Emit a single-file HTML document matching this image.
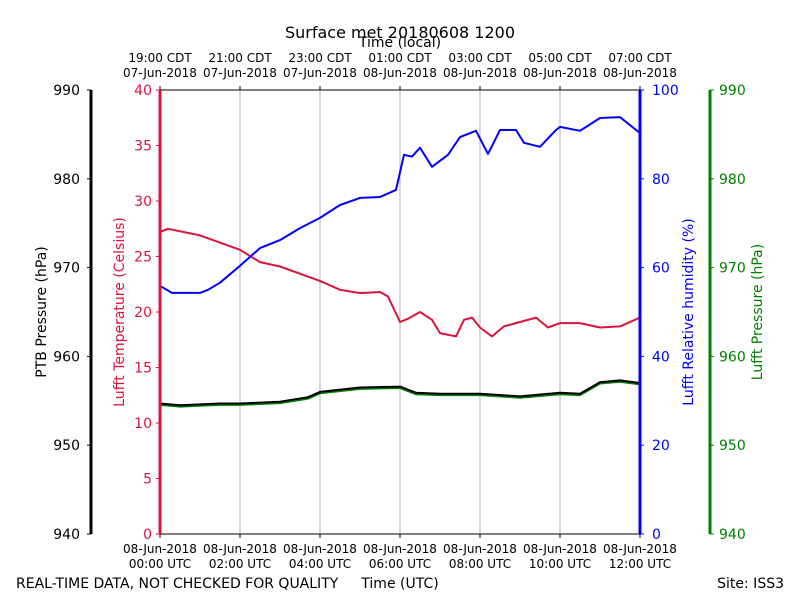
<!DOCTYPE html>
<html><head><meta charset="utf-8"><style>
body{margin:0;background:#fff;}
svg{display:block;font-family:"DejaVu Sans","Liberation Sans",sans-serif;}
</style></head><body>
<svg id="c" width="800" height="600"></svg>
<script>
const hoursT=[0,0.2,1,2,2.5,3,4,4.5,5,5.5,5.7,6,6.2,6.5,6.8,7,7.4,7.6,7.8,8,8.3,8.6,9,9.4,9.7,10,10.5,11,11.5,12];
const tempC=[27.2,27.5,26.9,25.6,24.5,24.1,22.8,22.0,21.7,21.8,21.4,19.1,19.4,20.0,19.3,18.1,17.8,19.3,19.5,18.6,17.8,18.7,19.1,19.5,18.6,19.0,19.0,18.6,18.7,19.5];
const hoursRH=[0,0.3,1,1.2,1.5,2,2.5,3,3.5,4,4.5,5,5.5,5.9,6.1,6.3,6.5,6.8,7.2,7.5,7.9,8.2,8.5,8.9,9.1,9.5,9.9,10,10.5,11,11.5,12];
const rhPct=[55.9,54.3,54.3,55.0,56.6,60.4,64.4,66.2,68.9,71.2,74.1,75.7,75.9,77.5,85.4,85.0,87.0,82.7,85.4,89.4,90.8,85.6,91.0,91.0,88.1,87.2,91.0,91.7,90.8,93.7,93.9,90.3];
const hoursP=[0,0.5,1,1.5,2,3,3.7,4,5,6,6.4,7,8,9,10,10.5,11,11.5,12];
const ptbHpa=[954.7,954.5,954.6,954.7,954.7,954.9,955.4,956.0,956.5,956.6,955.9,955.8,955.8,955.5,955.9,955.8,957.1,957.3,957.0];
const lufftHpa=[954.6,954.4,954.5,954.6,954.6,954.8,955.3,955.9,956.4,956.5,955.8,955.7,955.7,955.4,955.8,955.7,957.0,957.2,956.9];
const utcTicks=["00:00","02:00","04:00","06:00","08:00","10:00","12:00"];
const utcDates=["08-Jun-2018","08-Jun-2018","08-Jun-2018","08-Jun-2018","08-Jun-2018","08-Jun-2018","08-Jun-2018"];
const localTicks=["19:00","21:00","23:00","01:00","03:00","05:00","07:00"];
const localDates=["07-Jun-2018","07-Jun-2018","07-Jun-2018","08-Jun-2018","08-Jun-2018","08-Jun-2018","08-Jun-2018"];
const tempTicks=[0,5,10,15,20,25,30,35,40];
const rhTicks=[0,20,40,60,80,100];
const pTicks=[940,950,960,970,980,990];

const L=160,R=640,T=90,B=534;
const X=h=>L+h*(R-L)/12;
const Yt=v=>B-v*(B-T)/40;
const Yr=v=>B-v*(B-T)/100;
const Yp=v=>B-(v-940)*(B-T)/50;
const svg=document.getElementById('c');
const NS='http://www.w3.org/2000/svg';
function mk(tag,attrs,parent){const e=document.createElementNS(NS,tag);for(const k in attrs)e.setAttribute(k,attrs[k]);(parent||svg).appendChild(e);return e;}
function txt(s,x,y,attrs,name){const e=mk('text',Object.assign({x:x,y:y,'font-size':12},attrs));e.textContent=s;


return e;}

for(let i=1;i<6;i++){const g=mk('line',{x1:X(i*2),x2:X(i*2),y1:T,y2:B,stroke:'#b0b0b0','stroke-width':1});

}
mk('line',{x1:L,x2:R,y1:T,y2:T,stroke:'#000','stroke-width':1});
mk('line',{x1:L,x2:R,y1:B,y2:B,stroke:'#000','stroke-width':1});

for(let i=0;i<7;i++){const x=X(i*2);
mk('line',{x1:x,x2:x,y1:B,y2:B+4,stroke:'#000'});
mk('line',{x1:x,x2:x,y1:T,y2:T-4,stroke:'#000'});
txt(utcDates[i],x,553,{'text-anchor':'middle'},'x-tick-date');
txt(utcTicks[i]+' UTC',x,568,{'text-anchor':'middle'},'x-tick-label');
txt(localTicks[i]+' CDT',x,62,{'text-anchor':'middle'},'top-x-tick-label');
txt(localDates[i],x,77,{'text-anchor':'middle'},'top-x-tick-date');}

function line(xs,ys,fx,fy,color,w,name){let d='';for(let i=0;i<xs.length;i++)d+=(i?'L':'M')+fx(xs[i]).toFixed(1)+','+fy(ys[i]).toFixed(1);
const p=mk('path',{d:d,fill:'none',stroke:color,'stroke-width':w,'stroke-linejoin':'round'});

}
line(hoursP,lufftHpa,X,Yp,'#008000',3,'lufft-pressure-line');
line(hoursP,ptbHpa,X,Yp,'#000',2,'ptb-pressure-line');
line(hoursT,tempC,X,Yt,'#dc143c',2,'temperature-line');
line(hoursRH,rhPct,X,Yr,'#0000ff',2,'humidity-line');

mk('line',{x1:L,x2:L,y1:T,y2:B,stroke:'#dc143c','stroke-width':3});
tempTicks.forEach(v=>{mk('line',{x1:L-4,x2:L,y1:Yt(v),y2:Yt(v),stroke:'#dc143c'});txt(v,L-8,Yt(v)+5,{'text-anchor':'end',fill:'#dc143c','font-size':14},'temp-tick-label');});
txt('Lufft Temperature (Celsius)',0,0,{'text-anchor':'middle',fill:'#dc143c','font-size':14,transform:'translate(124,312) rotate(-90)'},'temp-axis-title');
mk('line',{x1:R,x2:R,y1:T,y2:B,stroke:'#0000ff','stroke-width':3});
rhTicks.forEach(v=>{mk('line',{x1:R,x2:R+4,y1:Yr(v),y2:Yr(v),stroke:'#0000ff'});txt(v,R+12,Yr(v)+5,{fill:'#0000ff','font-size':14},'rh-tick-label');});
txt('Lufft Relative humidity (%)',0,0,{'text-anchor':'middle',fill:'#0000ff','font-size':14,transform:'translate(693,312) rotate(-90)'},'rh-axis-title');
mk('line',{x1:91,x2:91,y1:T,y2:B,stroke:'#000','stroke-width':3});
pTicks.forEach(v=>{mk('line',{x1:87,x2:91,y1:Yp(v),y2:Yp(v),stroke:'#000'});txt(v,80,Yp(v)+5,{'text-anchor':'end','font-size':14},'ptb-tick-label');});
txt('PTB Pressure (hPa)',0,0,{'text-anchor':'middle','font-size':14,transform:'translate(46,312) rotate(-90)'},'ptb-axis-title');
mk('line',{x1:710,x2:710,y1:T,y2:B,stroke:'#008000','stroke-width':3});
pTicks.forEach(v=>{mk('line',{x1:710,x2:714,y1:Yp(v),y2:Yp(v),stroke:'#008000'});txt(v,719,Yp(v)+5,{fill:'#008000','font-size':14},'lufft-p-tick-label');});
txt('Lufft Pressure (hPa)',0,0,{'text-anchor':'middle',fill:'#008000','font-size':14,transform:'translate(762,312) rotate(-90)'},'lufft-p-axis-title');

txt('Surface met 20180608 1200',400,38,{'text-anchor':'middle','font-size':16},'chart-title');
txt('Time (local)',400,47,{'text-anchor':'middle','font-size':14},'top-axis-title');
txt('Time (UTC)',400,588,{'text-anchor':'middle','font-size':14},'x-axis-title');
txt('REAL-TIME DATA, NOT CHECKED FOR QUALITY',16,588,{'font-size':14},'quality-note');
txt('Site: ISS3',784,588,{'text-anchor':'end','font-size':14},'site-label');
</script>
</body></html>
